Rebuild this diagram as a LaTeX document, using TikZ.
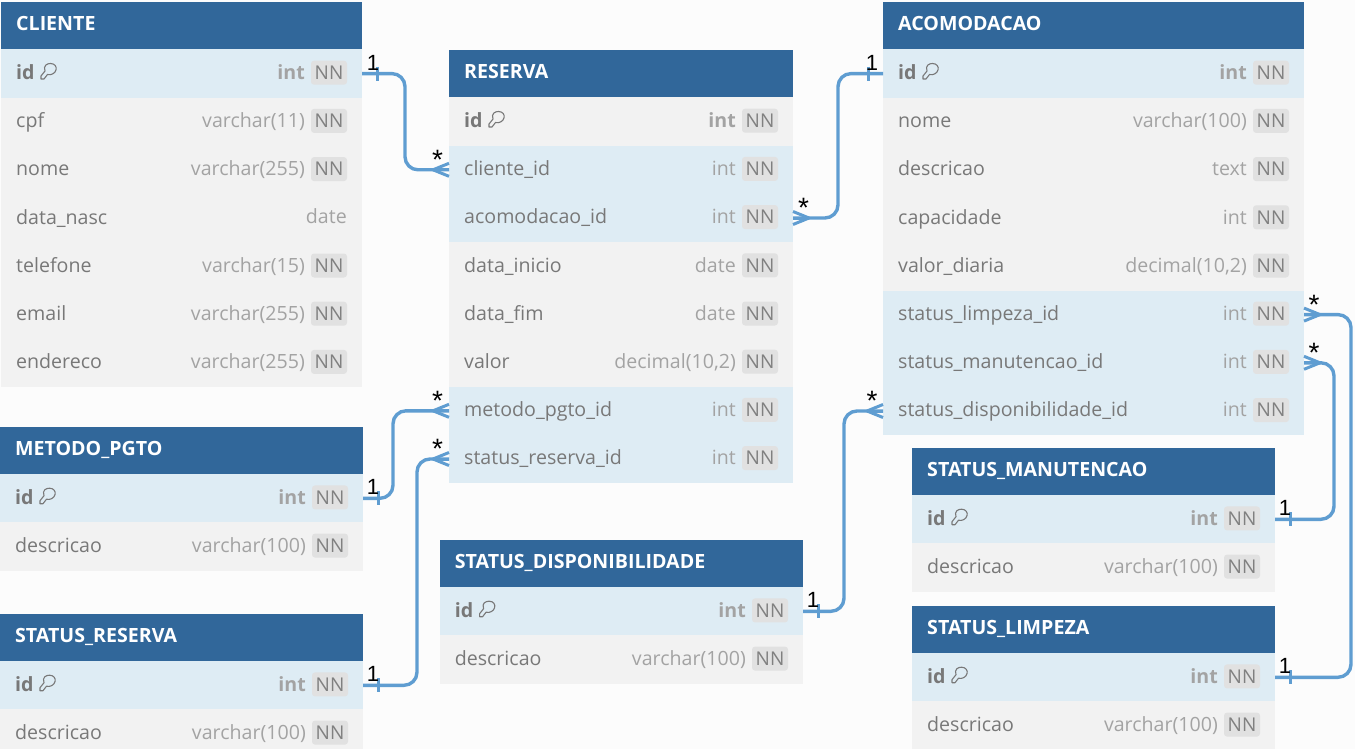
\documentclass[tikz,border=0pt]{standalone}
\usepackage{fontspec}
\setmainfont{Open Sans}
\newfontfamily\markfont{Liberation Sans}
\usetikzlibrary{calc}
\definecolor{headblue}{HTML}{31679A}
\definecolor{hirow}{HTML}{DEECF4}
\definecolor{plainrow}{HTML}{F2F2F2}
\definecolor{pagebg}{HTML}{FCFCFC}
\definecolor{linkblue}{HTML}{5F9DD1}
\definecolor{nametxt}{HTML}{787878}
\definecolor{typetxt}{HTML}{A3A3A3}
\definecolor{pillbg}{HTML}{E1E1E1}
\definecolor{pilltxt}{HTML}{808080}
\tikzset{
  x=1pt,y=-1pt,
  headbox/.style={anchor=north west,fill=headblue,minimum height=47.5pt,inner sep=0pt,outer sep=0pt},
  rowbox/.style={anchor=north west,minimum height=48.2pt,inner sep=0pt,outer sep=0pt},
  hi/.style={fill=hirow},
  pl/.style={fill=plainrow},
  headtxt/.style={anchor=base west,inner sep=0pt,text=white,font=\fontsize{19.6}{22}\selectfont\bfseries},
  nametext/.style={anchor=base west,inner sep=0pt,text=nametxt,font=\fontsize{19.6}{22}\selectfont},
  typetext/.style={anchor=base east,inner sep=0pt,text=typetxt,font=\fontsize{19.6}{22}\selectfont},
  pill/.style={anchor=center,fill=pillbg,rounded corners=3pt,minimum width=36pt,minimum height=24pt,inner sep=0pt,text=pilltxt,font=\fontsize{19}{20}\selectfont},
  link/.style={draw=linkblue,line width=3.4pt,rounded corners=13pt},
  tick/.style={draw=linkblue,line width=3pt},
  mark1/.style={inner sep=0pt,text=black,font=\markfont\fontsize{22}{22}\selectfont},
  markstar/.style={inner sep=0pt,text=black,font=\markfont\fontsize{28}{28}\selectfont},
  keyicon/.style={draw=nametxt,line width=1.1pt,line join=round},
}
\newcommand{\starttable}[5]{% name x y w title
  \xdef\tx{#2}\xdef\tw{#4}
  \node[headbox,minimum width=#4pt] (#1) at (#2,#3) {};
  \node[headtxt] (#1-title) at (#2+15,#3+28.8) {#5};
  \pgfmathsetmacro\nexty{#3+47.5}\xdef\ty{\nexty}
}
\newcommand{\advrow}{\pgfmathsetmacro\nexty{\ty+48.2}\xdef\ty{\nexty}}
% name, fill style, label, type, has NN
\newcommand{\colrow}[5]{%
  \node[rowbox,#2,minimum width=\tw pt] (#1) at (\tx,\ty) {};
  \node[nametext] (#1-l) at (\tx+15,\ty+30) {#3};
  \if#5y
    \node[typetext] (#1-t) at (\tx+\tw-57,\ty+30) {#4};
    \node[pill] (#1-n) at (\tx+\tw-33,\ty+23.2) {NN};
  \else
    \node[typetext] (#1-t) at (\tx+\tw-15,\ty+29.5) {#4};
  \fi
  \advrow
}
% name, fill style
\newcommand{\idrow}[2]{%
  \node[rowbox,#2,minimum width=\tw pt] (#1) at (\tx,\ty) {};
  \node[nametext,font=\fontsize{19.6}{22}\selectfont\bfseries] (#1-l) at (\tx+15,\ty+30) {id};
  \node[typetext,font=\fontsize{19.6}{22}\selectfont\bfseries] (#1-t) at (\tx+\tw-57,\ty+30) {int};
  \node[pill] (#1-n) at (\tx+\tw-33,\ty+23.2) {NN};
  \draw[keyicon] (\tx+40,\ty+26.5) -- (\tx+44,\ty+21.5)
     .. controls (\tx+42,\ty+16) and (\tx+46,\ty+14) .. (\tx+49.5,\ty+14)
     .. controls (\tx+54,\ty+14) and (\tx+56,\ty+17.5) .. (\tx+55,\ty+20.5)
     .. controls (\tx+54,\ty+24) and (\tx+50,\ty+26) .. (\tx+46.5,\ty+25)
     -- (\tx+43,\ty+29.5) -- (\tx+40,\ty+29.5) -- cycle;
  \advrow
}
% crow foot: tip point, sign of the direction from the table outwards
\newcommand{\crow}[2]{%
  \draw[tick] ($(#1)+(#2*16,0)$) -- ($(#1)+(0,-6.5)$);
  \draw[tick] ($(#1)+(#2*16,0)$) -- (#1);
  \draw[tick] ($(#1)+(#2*16,0)$) -- ($(#1)+(0,6.5)$);
}
\newcommand{\onebar}[1]{\draw[tick] ($(#1)+(15,-7)$) -- ($(#1)+(15,7)$);}
\begin{document}
\begin{tikzpicture}
\clip (0,0) rectangle (1355,749);
\fill[pagebg] (0,0) rectangle (1355,749);

\starttable{cliente}{1}{2}{361}{CLIENTE}
\idrow{cliente-id}{hi}
\colrow{cliente-cpf}{pl}{cpf}{varchar(11)}{y}
\colrow{cliente-nome}{pl}{nome}{varchar(255)}{y}
\colrow{cliente-nasc}{pl}{data\_nasc}{date}{n}
\colrow{cliente-tel}{pl}{telefone}{varchar(15)}{y}
\colrow{cliente-email}{pl}{email}{varchar(255)}{y}
\colrow{cliente-end}{pl}{endereco}{varchar(255)}{y}

\starttable{reserva}{449}{50}{344}{RESERVA}
\idrow{reserva-id}{pl}
\colrow{reserva-cli}{hi}{cliente\_id}{int}{y}
\colrow{reserva-aco}{hi}{acomodacao\_id}{int}{y}
\colrow{reserva-ini}{pl}{data\_inicio}{date}{y}
\colrow{reserva-fim}{pl}{data\_fim}{date}{y}
\colrow{reserva-val}{pl}{valor}{decimal(10,2)}{y}
\colrow{reserva-met}{hi}{metodo\_pgto\_id}{int}{y}
\colrow{reserva-sta}{hi}{status\_reserva\_id}{int}{y}

\starttable{acomodacao}{883}{2}{421}{ACOMODACAO}
\idrow{aco-id}{hi}
\colrow{aco-nome}{pl}{nome}{varchar(100)}{y}
\colrow{aco-desc}{pl}{descricao}{text}{y}
\colrow{aco-cap}{pl}{capacidade}{int}{y}
\colrow{aco-val}{pl}{valor\_diaria}{decimal(10,2)}{y}
\colrow{aco-lim}{hi}{status\_limpeza\_id}{int}{y}
\colrow{aco-man}{hi}{status\_manutencao\_id}{int}{y}
\colrow{aco-dis}{hi}{status\_disponibilidade\_id}{int}{y}

\starttable{metodo}{0}{426.7}{363}{METODO\_PGTO}
\idrow{metodo-id}{hi}
\colrow{metodo-desc}{pl}{descricao}{varchar(100)}{y}

\starttable{sreserva}{0}{613.7}{363}{STATUS\_RESERVA}
\idrow{sreserva-id}{hi}
\colrow{sreserva-desc}{pl}{descricao}{varchar(100)}{y}

\starttable{sdisp}{439.6}{539.7}{363.4}{STATUS\_DISPONIBILIDADE}
\idrow{sdisp-id}{hi}
\colrow{sdisp-desc}{pl}{descricao}{varchar(100)}{y}

\starttable{sman}{912}{447.7}{363}{STATUS\_MANUTENCAO}
\idrow{sman-id}{hi}
\colrow{sman-desc}{pl}{descricao}{varchar(100)}{y}

\starttable{slim}{912}{605.7}{363}{STATUS\_LIMPEZA}
\idrow{slim-id}{hi}
\colrow{slim-desc}{pl}{descricao}{varchar(100)}{y}

% connectors
\draw[link] (cliente-id.east) -- (405,0 |- cliente-id.east) -- (405,0 |- reserva-cli.west) -- (reserva-cli.west);
\draw[link] (reserva-aco.east) -- (838,0 |- reserva-aco.east) -- (838,0 |- aco-id.west) -- (aco-id.west);
\draw[link] (metodo-id.east) -- (393,0 |- metodo-id.east) -- (393,0 |- reserva-met.west) -- (reserva-met.west);
\draw[link] (sreserva-id.east) -- (417,0 |- sreserva-id.east) -- (417,0 |- reserva-sta.west) -- (reserva-sta.west);
\draw[link] (sdisp-id.east) -- (844,0 |- sdisp-id.east) -- (844,0 |- aco-dis.west) -- (aco-dis.west);
\draw[link] (sman-id.east) -- (1334,0 |- sman-id.east) -- (1334,0 |- aco-man.east) -- (aco-man.east);
\draw[link] (slim-id.east) -- (1351,0 |- slim-id.east) -- (1351,0 |- aco-lim.east) -- (aco-lim.east);

\crow{reserva-cli.west}{-1}
\crow{reserva-aco.east}{1}
\crow{reserva-met.west}{-1}
\crow{reserva-sta.west}{-1}
\crow{aco-dis.west}{-1}
\crow{aco-man.east}{1}
\crow{aco-lim.east}{1}
\onebar{cliente-id.east}
\draw[tick] ($(aco-id.west)+(-15,-7)$) -- ($(aco-id.west)+(-15,7)$);
\onebar{metodo-id.east}
\onebar{sreserva-id.east}
\onebar{sdisp-id.east}
\onebar{sman-id.east}
\onebar{slim-id.east}

% end labels
\node[mark1] (m1) at ($(cliente-id.east)+(11,-11)$) {1};
\node[mark1] (m2) at ($(aco-id.west)+(-11,-11)$) {1};
\node[mark1] (m3) at ($(metodo-id.east)+(10,-11)$) {1};
\node[mark1] (m4) at ($(sreserva-id.east)+(10,-11)$) {1};
\node[mark1] (m5) at ($(sdisp-id.east)+(10,-11)$) {1};
\node[mark1] (m6) at ($(sman-id.east)+(10,-11)$) {1};
\node[mark1] (m7) at ($(slim-id.east)+(10,-11)$) {1};
\node[markstar] (s1) at ($(reserva-cli.west)+(-11.5,-10)$) {*};
\node[markstar] (s2) at ($(reserva-aco.east)+(10.5,-10)$) {*};
\node[markstar] (s3) at ($(reserva-met.west)+(-11.5,-10)$) {*};
\node[markstar] (s4) at ($(reserva-sta.west)+(-11.5,-10)$) {*};
\node[markstar] (s5) at ($(aco-dis.west)+(-11,-10)$) {*};
\node[markstar] (s6) at ($(aco-man.east)+(10,-10)$) {*};
\node[markstar] (s7) at ($(aco-lim.east)+(10,-10)$) {*};
\end{tikzpicture}
\end{document}
